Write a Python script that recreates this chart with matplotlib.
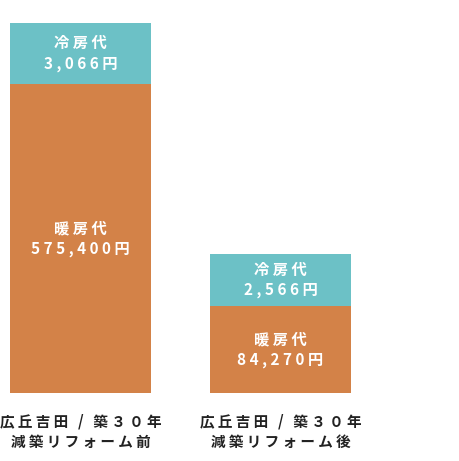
import numpy as np
import matplotlib
matplotlib.use('Agg')
import matplotlib.pyplot as plt

plt.rcParams['font.family'] = ['Noto Sans CJK JP', 'DejaVu Sans']

# categories (two-line labels) and stacked segments
categories = ['広丘吉田/築３０年\n減築リフォーム前', '広丘吉田/築３０年\n減築リフォーム後']
heat_cost = ['575,400円', '84,270円']
cool_cost = ['3,066円', '2,566円']
# drawn segment heights (the picture is not to scale)
heat_height = [309, 87]
cool_height = [61, 52]

heat_color = '#D38248'
cool_color = '#6CC1C6'


def spaced(s):
    # wide letter spacing as in the original, a bit more room round the slash
    lines = [' '.join(line).replace(' / ', '   /   ') for line in s.split('\n')]
    return '\n'.join(lines)


fig = plt.figure(figsize=(4.59, 4.61), dpi=100)
ax = fig.add_axes([0, 68/461, 1, 370/461])

x = np.arange(len(categories))
w = 0.705
ax.bar(x, heat_height, width=w, color=heat_color)
ax.bar(x, cool_height, width=w, bottom=heat_height, color=cool_color)

for i in range(len(x)):
    ax.text(x[i], heat_height[i]/2, spaced('暖房代\n' + heat_cost[i]), ha='center', va='center',
            color='white', fontsize=11, fontweight='bold', linespacing=1.35)
    ax.text(x[i], heat_height[i] + cool_height[i]/2, spaced('冷房代\n' + cool_cost[i]), ha='center',
            va='center', color='white', fontsize=11, fontweight='bold', linespacing=1.35)

ax.set_xlim(-0.4025, 1.8925)
ax.set_ylim(0, 370)
ax.set_xticks(x)
ax.set_xticklabels([spaced(c) for c in categories], fontsize=10.5, fontweight='bold',
                   color='#222222', linespacing=1.3)
ax.tick_params(axis='x', length=0, pad=15)
ax.set_yticks([])
for s in ax.spines.values():
    s.set_visible(False)

fig.savefig('out.png', dpi=100)
